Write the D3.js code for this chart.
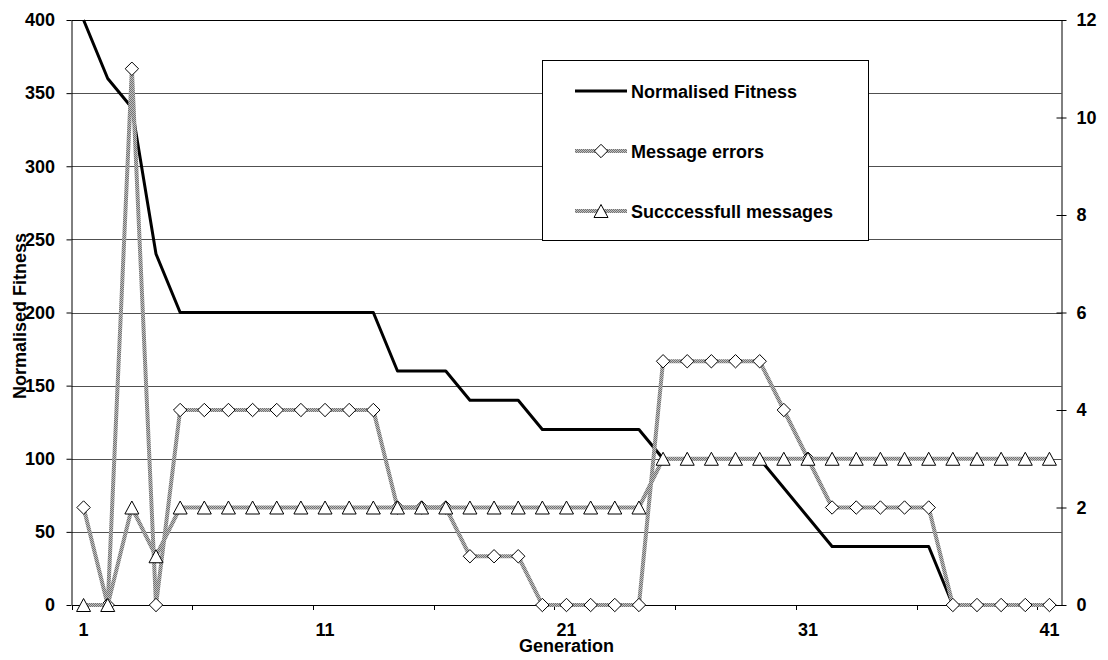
<!DOCTYPE html>
<html>
<head>
<meta charset="utf-8">
<script src="https://cdn.jsdelivr.net/npm/d3@7"></script>
<style>
  body { margin: 0; background: #fff; }
  svg { display: block; }
  text { font-family: "Liberation Sans", Arial, sans-serif; font-weight: bold; font-size: 18px; fill: #000; }
</style>
</head>
<body>
<svg id="chart" width="1108" height="660"></svg>
<script>
// Generations (category axis)
const generations = [1,2,3,4,5,6,7,8,9,10,11,12,13,14,15,16,17,18,19,20,
                     21,22,23,24,25,26,27,28,29,30,31,32,33,34,35,36,37,38,39,40,41];
// Normalised fitness (left axis)
const fitness = [400,360,340,240,200,200,200,200,200,200,200,200,200,160,160,160,140,140,140,120,
                 120,120,120,120,100,100,100,100,100,80,60,40,40,40,40,40,0,0,0,0,0];
// Message errors (right axis)
const messageErrors = [2,0,11,0,4,4,4,4,4,4,4,4,4,2,2,2,1,1,1,0,
                       0,0,0,0,5,5,5,5,5,4,3,2,2,2,2,2,0,0,0,0,0];
// Successful messages (right axis)
const successfulMessages = [0,0,2,1,2,2,2,2,2,2,2,2,2,2,2,2,2,2,2,2,
                            2,2,2,2,3,3,3,3,3,3,3,3,3,3,3,3,3,3,3,3,3];

const leftTicks = [0,50,100,150,200,250,300,350,400];
const rightTicks = [0,2,4,6,8,10,12];
const xTickLabels = [1,11,21,31,41];
const seriesNames = ["Normalised Fitness", "Message errors", "Succcessfull messages"];

const L = 71.5, R = 1061.5, T = 20, B = 605;
const svg = d3.select("#chart");

const x = d3.scaleBand().domain(generations).range([L, R]).padding(0);
const cx = g => x(g) + x.bandwidth() / 2;
const yL = d3.scaleLinear().domain([0, 400]).range([B, T]);
const yR = d3.scaleLinear().domain([0, 12]).range([B, T]);

// textured grey stroke for the message series
const defs = svg.append("defs");
const pat = defs.append("pattern").attr("id", "hatch")
  .attr("patternUnits", "userSpaceOnUse").attr("width", 2).attr("height", 2);
pat.append("rect").attr("width", 2).attr("height", 2).attr("fill", "#c0c0c0");
pat.append("rect").attr("width", 1).attr("height", 1).attr("fill", "#727272");
pat.append("rect").attr("x", 1).attr("y", 1).attr("width", 1).attr("height", 1).attr("fill", "#727272");

// horizontal gridlines
svg.append("g").selectAll("line")
  .data(leftTicks.filter(v => v > 0))
  .join("line")
  .attr("x1", L).attr("x2", R)
  .attr("y1", d => Math.round(yL(d)) + 0.5)
  .attr("y2", d => Math.round(yL(d)) + 0.5)
  .attr("stroke", d => d === 400 ? "#000" : "#505050")
  .attr("stroke-width", 1);

// left axis
const leftAxis = svg.append("g").attr("transform", `translate(${L},0)`)
  .call(d3.axisLeft(yL).tickValues(leftTicks).tickSize(5).tickSizeOuter(0).tickPadding(11.5));
leftAxis.attr("font-family", null).attr("font-size", null);

// right axis (ticks cross the axis line)
const rightAxis = svg.append("g").attr("transform", `translate(${R},0)`)
  .call(d3.axisRight(yR).tickValues(rightTicks).tickSize(5).tickSizeOuter(0).tickPadding(10));
rightAxis.selectAll(".tick line").attr("x1", -5).attr("x2", 5);
rightAxis.attr("font-family", null).attr("font-size", null);

// bottom axis: labels centred on generations, tick marks on band boundaries every 5
const bottomAxis = svg.append("g").attr("transform", `translate(0,${B})`)
  .call(d3.axisBottom(x).tickValues(xTickLabels).tickSize(0).tickSizeOuter(0).tickPadding(18));
bottomAxis.attr("font-family", null).attr("font-size", null);
bottomAxis.selectAll(".tick").attr("transform", d => `translate(${cx(d)},0)`);
svg.append("g").selectAll("line")
  .data(generations.filter(g => (g - 1) % 5 === 0))
  .join("line")
  .attr("x1", d => Math.round(x(d)) + 0.5).attr("x2", d => Math.round(x(d)) + 0.5)
  .attr("y1", B).attr("y2", B + 5)
  .attr("stroke", "#000");

// axis titles
svg.append("text").attr("x", (L + R) / 2).attr("y", 652)
  .attr("text-anchor", "middle").text("Generation");
svg.append("text").attr("transform", `translate(26,316) rotate(-90)`)
  .attr("text-anchor", "middle").text("Normalised Fitness");

const diamond = "M0,-6.7L6.7,0L0,6.7L-6.7,0Z";
const triangle = "M0,-6.5L7,6.5L-7,6.5Z";

// fitness line
svg.append("path")
  .datum(fitness)
  .attr("fill", "none").attr("stroke", "#000").attr("stroke-width", 3)
  .attr("stroke-linejoin", "round")
  .attr("d", d3.line().x((d, i) => cx(generations[i])).y(d => yL(d)));

function drawSeries(values, shape) {
  svg.append("path")
    .datum(values)
    .attr("fill", "none").attr("stroke", "url(#hatch)").attr("stroke-width", 4)
    .attr("d", d3.line().x((d, i) => cx(generations[i])).y(d => yR(d)));
  svg.append("g").selectAll("path")
    .data(values)
    .join("path")
    .attr("transform", (d, i) => `translate(${cx(generations[i])},${yR(d)})`)
    .attr("d", shape)
    .attr("fill", "#fff").attr("stroke", "#000").attr("stroke-width", 1);
}
drawSeries(messageErrors, diamond);
drawSeries(successfulMessages, triangle);

// legend
const lg = svg.append("g");
lg.append("rect").attr("x", 542.5).attr("y", 60.5).attr("width", 326).attr("height", 180)
  .attr("fill", "#fff").attr("stroke", "#000").attr("stroke-width", 1);
const rows = [91, 151, 211];
seriesNames.forEach((name, i) => {
  const y = rows[i];
  lg.append("line").attr("x1", 575).attr("x2", 627).attr("y1", y).attr("y2", y)
    .attr("stroke", i === 0 ? "#000" : "url(#hatch)").attr("stroke-width", i === 0 ? 3 : 4);
  if (i > 0) {
    lg.append("path").attr("transform", `translate(601,${y})`)
      .attr("d", i === 1 ? diamond : triangle)
      .attr("fill", "#fff").attr("stroke", "#000");
  }
  lg.append("text").attr("x", 631).attr("y", y + 6.5).text(name);
});
</script>
</body>
</html>
